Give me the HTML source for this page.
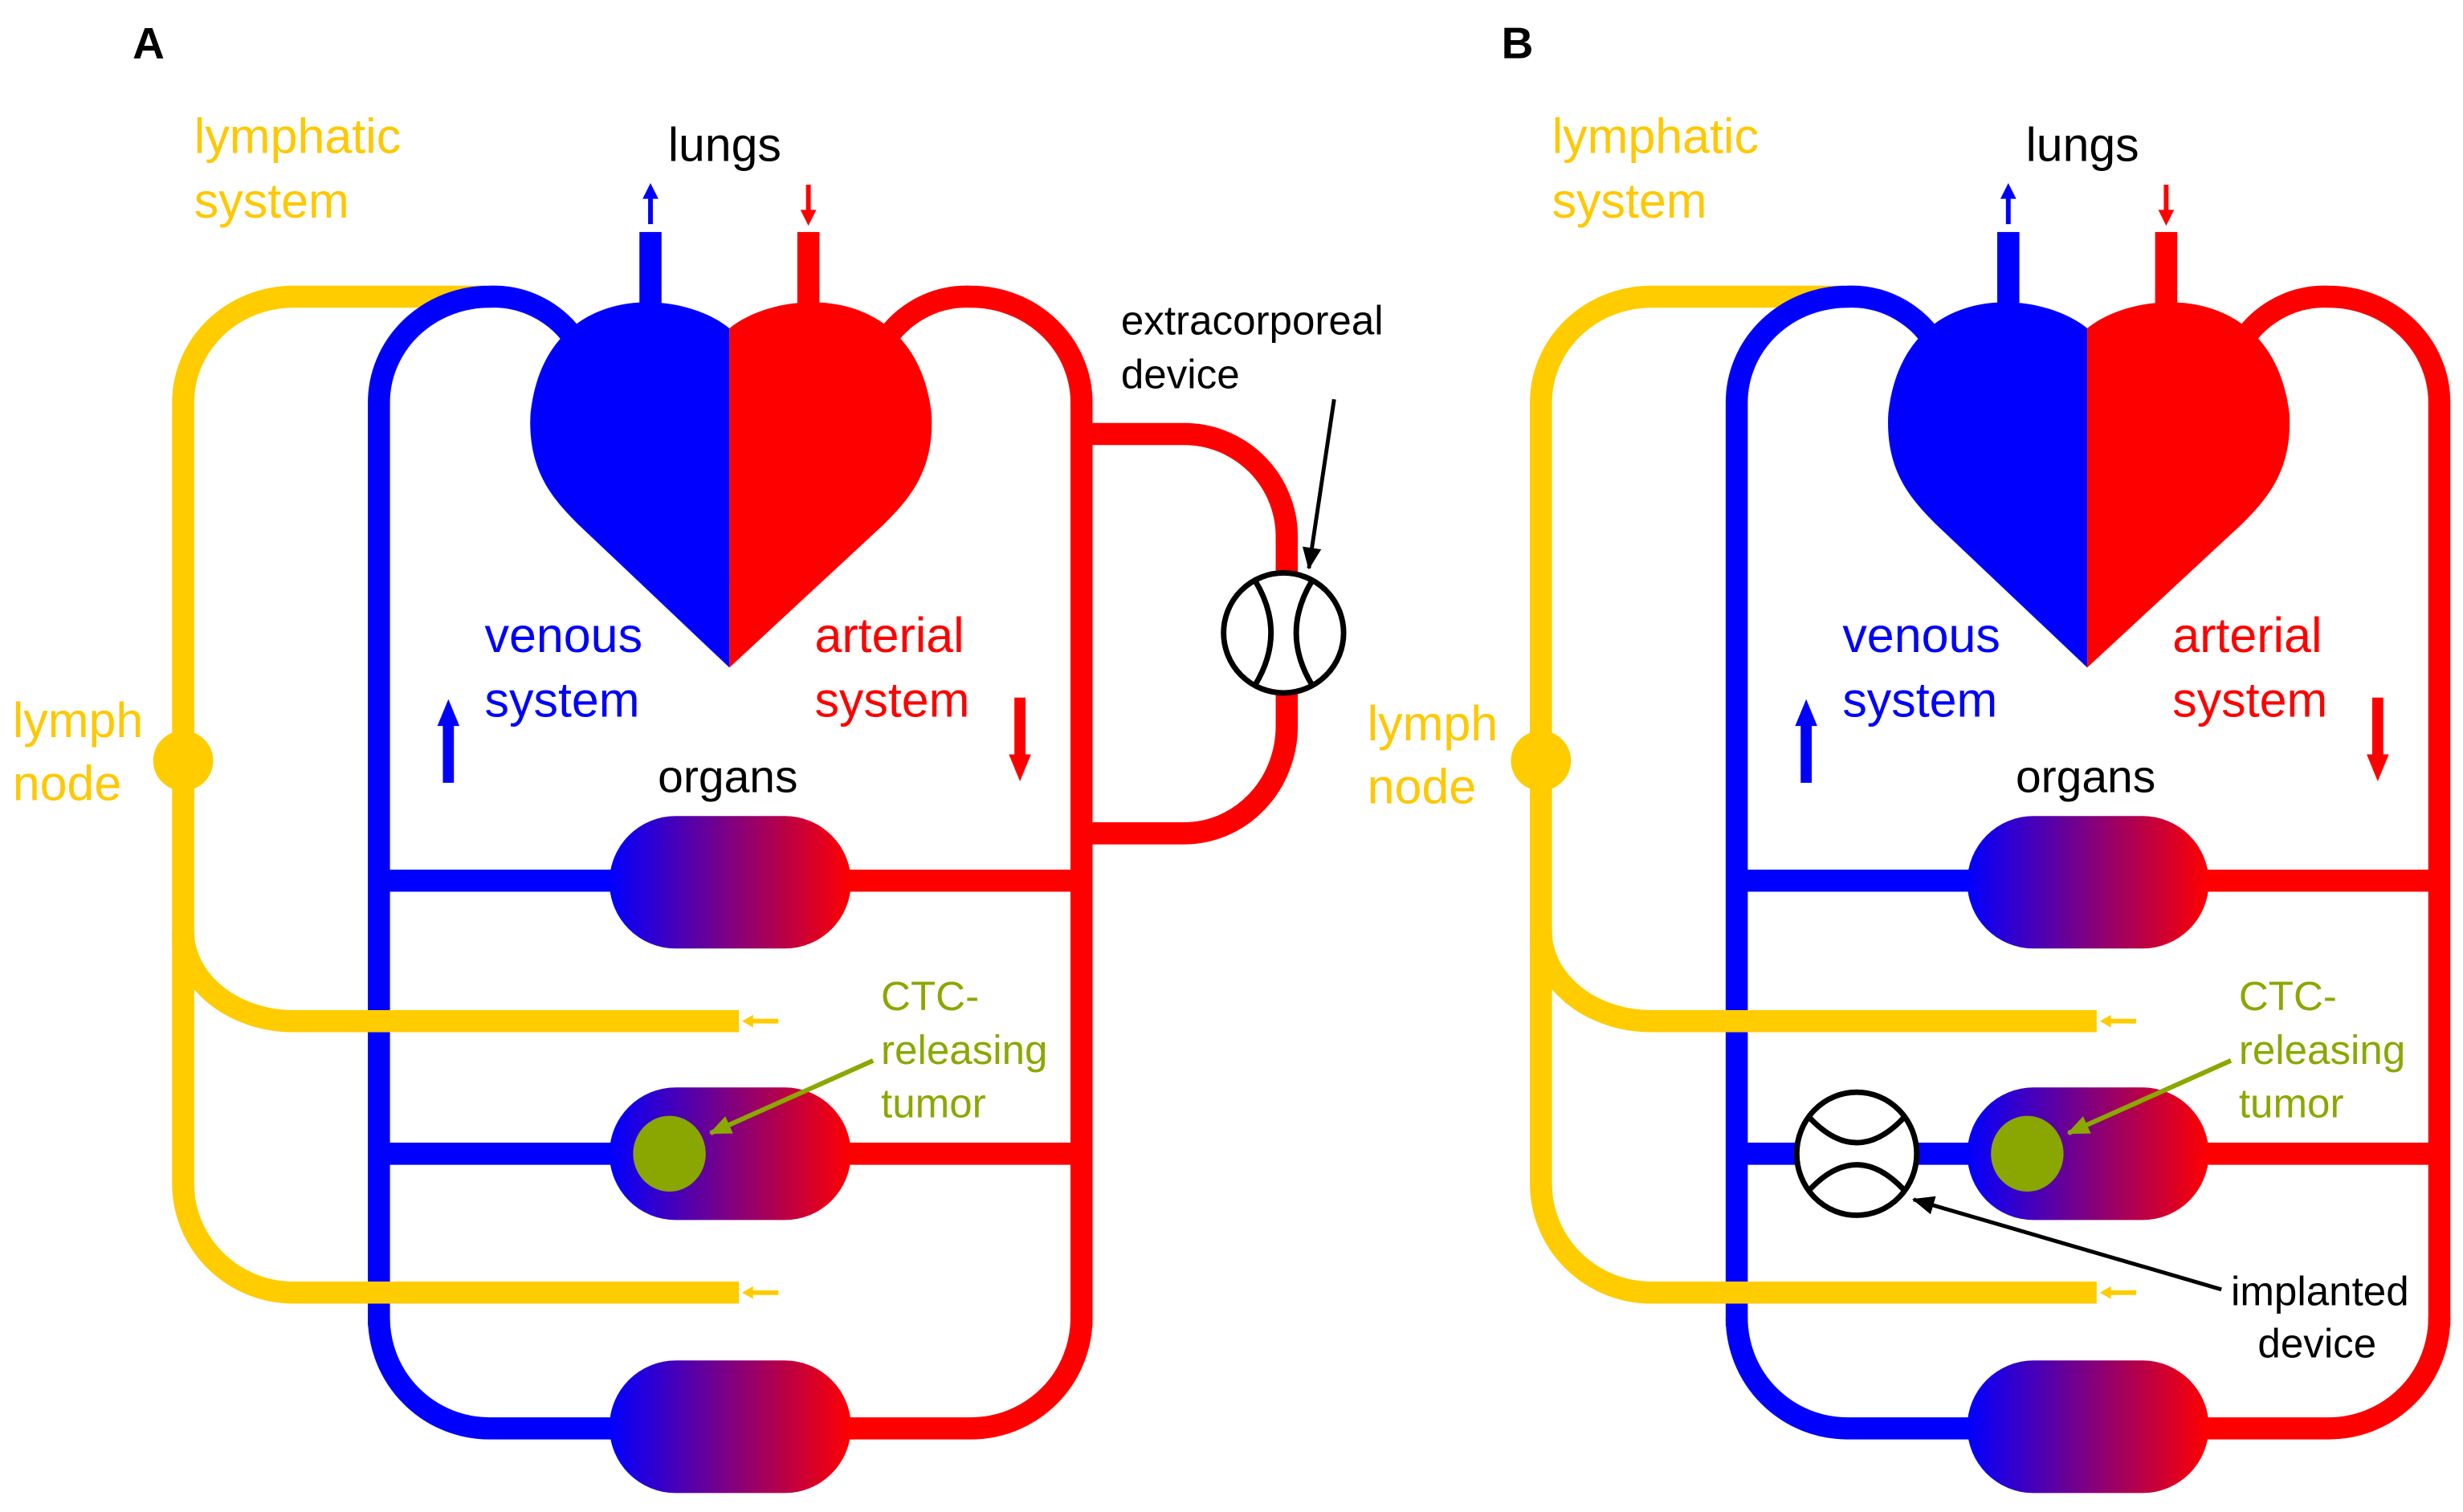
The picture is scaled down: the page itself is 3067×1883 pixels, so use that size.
<!DOCTYPE html>
<html><head><meta charset="utf-8"><style>
html,body{margin:0;padding:0;background:#fff;}
svg{display:block;}
text{font-family:"Liberation Sans",sans-serif;}
</style></head><body>
<svg width="3067" height="1883" viewBox="0 0 1560 958" preserveAspectRatio="none" xmlns="http://www.w3.org/2000/svg">
<defs>
<linearGradient id="g" x1="0" x2="1" y1="0" y2="0"><stop offset="0" stop-color="#0000ff"/><stop offset="1" stop-color="#ff0000"/></linearGradient>
<marker id="ab" markerWidth="14" markerHeight="12" refX="13" refY="6" orient="auto" markerUnits="userSpaceOnUse"><path d="M0,0 L14,6 L0,12 Z" fill="#000"/></marker>
<marker id="ag" markerWidth="14" markerHeight="12" refX="13" refY="6" orient="auto" markerUnits="userSpaceOnUse"><path d="M0,0 L14,6 L0,12 Z" fill="#8ba800"/></marker>
<g id="core">
 <path d="M240,840 V255 A70,67 0 0 1 310,188 A62,62 0 0 1 368,222" fill="none" stroke="#00f" stroke-width="14"/>
 <path d="M240,835 A70,70 0 0 0 310,905 H395" fill="none" stroke="#00f" stroke-width="14"/>
 <path d="M240,558 H395 M240,731 H395" stroke="#00f" stroke-width="14"/>
 <path d="M685,840 V255 A70,67 0 0 0 615,188 A62,62 0 0 0 557,222" fill="none" stroke="#f00" stroke-width="14"/>
 <path d="M685,835 A70,70 0 0 1 615,905 H530" fill="none" stroke="#f00" stroke-width="14"/>
 <path d="M530,558 H685 M530,731 H685" stroke="#f00" stroke-width="14"/>
 <path d="M462,208 C430,182 345,178 336,262 C334,298 350,316 366,332 L462,423 Z" fill="#00f"/>
 <path d="M462,208 C494,182 580,178 590,262 C592,298 576,316 560,332 L462,423 Z" fill="#f00"/>
 <rect x="405" y="147" width="14" height="45" fill="#00f"/>
 <rect x="505" y="147" width="14" height="45" fill="#f00"/>
 <path d="M412,142 V124" stroke="#00f" stroke-width="3"/><path d="M407,126 L412,116 L417,126Z" fill="#00f"/>
 <path d="M512,117 V135" stroke="#f00" stroke-width="3"/><path d="M507,133 L512,143 L517,133Z" fill="#f00"/>
 <rect x="386" y="517" width="153" height="84" rx="42" fill="url(#g)"/>
 <rect x="386" y="689" width="153" height="84" rx="42" fill="url(#g)"/>
 <rect x="386" y="862" width="153" height="84" rx="42" fill="url(#g)"/>
 <ellipse cx="424" cy="731" rx="23" ry="24" fill="#8aa600"/>
 <path d="M284,496 V458" stroke="#00f" stroke-width="7"/><path d="M277,460 L284,443 L291,460Z" fill="#00f"/>
 <path d="M646,442 V480" stroke="#f00" stroke-width="7"/><path d="M639,478 L646,495 L653,478Z" fill="#f00"/>
 <path d="M185,647 H468 M185,819 H468" stroke="#ffcc00" stroke-width="14"/>
 <path d="M493,647 H476 M493,819 H476" stroke="#ffcc00" stroke-width="3"/>
 <path d="M477,643 L470,647 L477,651Z M477,815 L470,819 L477,823Z" fill="#ffcc00"/>
 <text x="459" y="102" font-size="30" text-anchor="middle" fill="#000">lungs</text>
 <text x="123" y="97" font-size="31" fill="#ffc800">lymphatic</text>
 <text x="123" y="138" font-size="31" fill="#ffc800">system</text>
 <text x="307" y="413" font-size="31" fill="#00f">venous</text>
 <text x="307" y="454" font-size="31" fill="#00f">system</text>
 <text x="516" y="413" font-size="31" fill="#f00">arterial</text>
 <text x="516" y="454" font-size="31" fill="#f00">system</text>
 <text x="461" y="502" font-size="29" text-anchor="middle" fill="#000">organs</text>
 <text x="558" y="640" font-size="26" fill="#8ba800">CTC-</text>
 <text x="558" y="674" font-size="26" fill="#8ba800">releasing</text>
 <text x="558" y="708" font-size="26" fill="#8ba800">tumor</text>
 <path d="M553,672 L450,718" stroke="#8ba800" stroke-width="3" marker-end="url(#ag)"/>
</g>
</defs>

<text x="84" y="37" font-size="28" font-weight="bold" fill="#000">A</text>
<path d="M116,600 V255 A70,67 0 0 1 186,188 H312" fill="none" stroke="#ffcc00" stroke-width="14"/>
<path d="M116,590 A70,57 0 0 0 186,647" fill="none" stroke="#ffcc00" stroke-width="14"/>
<path d="M116,590 V750 A70,69 0 0 0 186,819" fill="none" stroke="#ffcc00" stroke-width="14"/>
<circle cx="116" cy="482" r="19" fill="#ffcc00"/>
<text x="8" y="467" font-size="31" fill="#ffc800">lymph</text>
<text x="8" y="507" font-size="31" fill="#ffc800">node</text>
<use href="#core"/>
<path d="M685,275 H750 A65,65 0 0 1 815,340 V460 A65,68 0 0 1 750,528 H685" fill="none" stroke="#f00" stroke-width="14"/>
<circle cx="813" cy="401" r="38" fill="#fff" stroke="#000" stroke-width="3.5"/>
<path d="M795,368 Q815,401 795,434 M831,368 Q811,401 831,434" fill="none" stroke="#000" stroke-width="3.5"/>
<text x="710" y="212" font-size="26" fill="#000">extracorporeal</text>
<text x="710" y="246" font-size="26" fill="#000">device</text>
<path d="M845,253 L829,360" stroke="#000" stroke-width="2.5" marker-end="url(#ab)"/>

<text x="951" y="37" font-size="28" font-weight="bold" fill="#000">B</text>
<path d="M976,600 V255 A70,67 0 0 1 1046,188 H1172" fill="none" stroke="#ffcc00" stroke-width="14"/>
<path d="M976,590 A70,57 0 0 0 1046,647" fill="none" stroke="#ffcc00" stroke-width="14"/>
<path d="M976,590 V750 A70,69 0 0 0 1046,819" fill="none" stroke="#ffcc00" stroke-width="14"/>
<circle cx="976" cy="482" r="19" fill="#ffcc00"/>
<text x="866" y="469" font-size="31" fill="#ffc800">lymph</text>
<text x="866" y="509" font-size="31" fill="#ffc800">node</text>
<use href="#core" x="860"/>
<ellipse cx="1176" cy="731" rx="38" ry="39" fill="#fff" stroke="#000" stroke-width="3.5"/>
<path d="M1146,708 Q1176,740 1206,708 M1146,754 Q1176,722 1206,754" fill="none" stroke="#000" stroke-width="3.5"/>
<text x="1413" y="827" font-size="26" fill="#000">implanted</text>
<text x="1430" y="860" font-size="26" fill="#000">device</text>
<path d="M1407,817 L1212,760" stroke="#000" stroke-width="2.5" marker-end="url(#ab)"/>
</svg>
</body></html>
